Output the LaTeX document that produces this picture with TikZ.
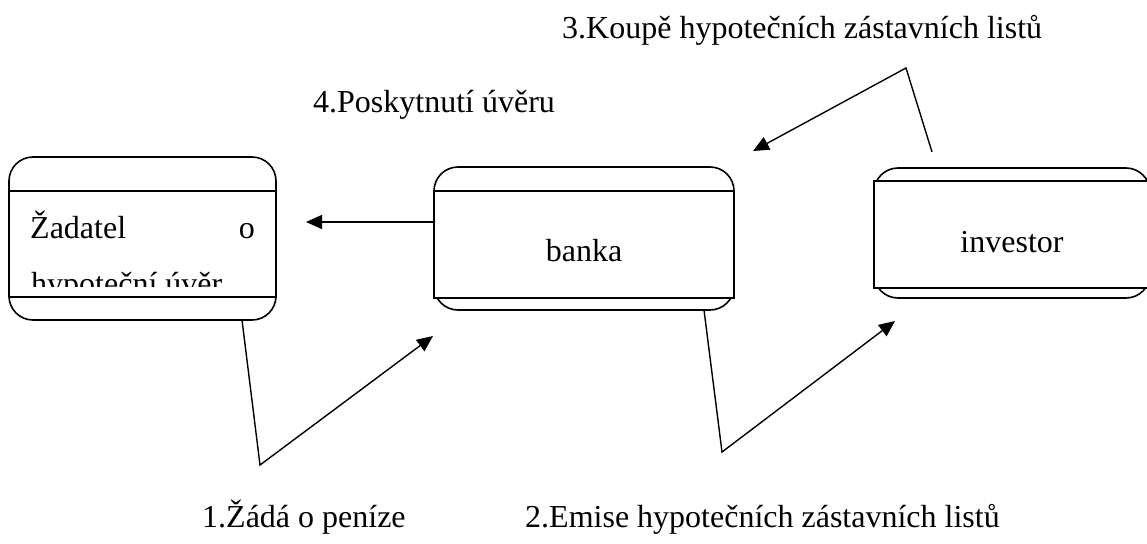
\documentclass[tikz,border=0pt]{standalone}
\usepackage{fontspec}
\setmainfont{Liberation Serif}
\usetikzlibrary{arrows.meta}
\begin{document}
\begin{tikzpicture}[x=1pt,y=-1pt,
  boxline/.style={line width=1.6pt},
  outerbox/.style={boxline,draw,rounded corners=24pt},
  innerbox/.style={boxline,draw,fill=white},
  conn/.style={line width=1.4pt},
  arr/.style={conn,-{Triangle[length=16pt,width=14pt]}},
  lbl/.style={anchor=base west,inner sep=0pt,font=\fontsize{32}{38}\selectfont},
  txt/.style={inner sep=0pt,font=\fontsize{32}{38}\selectfont}]
\clip (0,0) rectangle (1147,543);
% box 1: Zadatel
\draw[outerbox] (9,157) rectangle (276,320);
\draw[innerbox] (9,191) rectangle (276,297);
\node[txt,anchor=base west] (t1a) at (30,238) {Žadatel};
\node[txt,anchor=base east] (t1b) at (255,238) {o};
\begin{scope}
\clip (10,192) rectangle (275,286);
\node[txt,anchor=base west] (t1c) at (31,294) {hypoteční úvěr};
\end{scope}
% box 2: banka
\draw[outerbox] (434,167) rectangle (734,310);
\draw[innerbox] (434,191) rectangle (734,298);
\node[txt,anchor=base] (t2) at (584,261) {banka};
% box 3: investor
\draw[outerbox] (874,168) rectangle (1150,298);
\draw[innerbox] (874,181) rectangle (1150,288);
\node[txt,anchor=base] (t3) at (1012,252) {investor};
% connector points
\coordinate (a1s) at (242,320);
\coordinate (a1v) at (260,465);
\coordinate (a1e) at (433,336);
\coordinate (a2s) at (704,310);
\coordinate (a2v) at (722,452);
\coordinate (a2e) at (895,321);
\coordinate (a3s) at (932,152);
\coordinate (a3v) at (906,68);
\coordinate (a3e) at (753,151);
\coordinate (a4s) at (434,222);
\coordinate (a4e) at (306,222);
\draw[arr] (a1s) -- (a1v) -- (a1e);
\draw[arr] (a2s) -- (a2v) -- (a2e);
\draw[arr,line join=miter] (a3s) -- (a3v) -- (a3e);
\draw[arr] (a4s) -- (a4e);
% labels
\node[lbl] (l3) at (562,38) {3.Koupě hypotečních zástavních listů};
\node[lbl] (l4) at (313,112) {4.Poskytnutí úvěru};
\node[lbl] (l1) at (202,527) {1.Žádá o peníze};
\node[lbl] (l2) at (525,527) {2.Emise hypotečních zástavních listů};
\end{tikzpicture}
\end{document}
